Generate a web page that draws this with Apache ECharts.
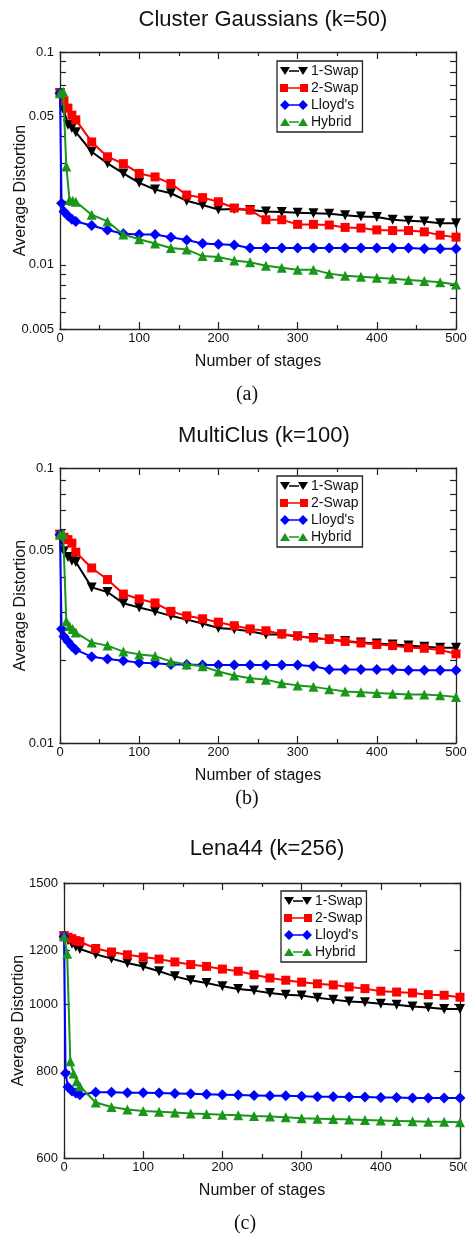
<!DOCTYPE html>
<html>
<head>
<meta charset="utf-8">
<script src="https://cdn.jsdelivr.net/npm/echarts@6/dist/echarts.min.js"></script>
<style>
  html, body { margin: 0; padding: 0; background: #fff; }
  #chart { width: 467px; height: 1234px; }
</style>
</head>
<body>
<div id="chart"></div>
<script>
// stages where each method was sampled
const lateStages = [40, 60, 80, 100, 120, 140, 160, 180, 200, 220, 240, 260, 280, 300, 320, 340, 360, 380, 400, 420, 440, 460, 480, 500];
const swapEarly = [0, 5, 10, 15, 20];
const lloydEarly = [0, 2, 5, 10, 15, 20];
const hybridEarly = [0, 4, 8, 12, 16, 20];

const seriesNames = ['1-Swap', '2-Swap', "Lloyd's", 'Hybrid'];

// (a) Cluster Gaussians
const swap1A = [0.064, 0.053, 0.0455, 0.044, 0.042, 0.034, 0.030, 0.0269, 0.0243, 0.0226, 0.0217, 0.0200, 0.0191, 0.0182, 0.0183, 0.0181, 0.0178, 0.0177, 0.0176, 0.0175, 0.0174, 0.0171, 0.0169, 0.0168, 0.0163, 0.0161, 0.0160, 0.0157, 0.0157];
const swap2A = [0.064, 0.059, 0.0545, 0.0505, 0.048, 0.0378, 0.0322, 0.0299, 0.0269, 0.0259, 0.0241, 0.0213, 0.0207, 0.0198, 0.0185, 0.0181, 0.0163, 0.0163, 0.0155, 0.0155, 0.0154, 0.0150, 0.0149, 0.0146, 0.0145, 0.0145, 0.0143, 0.0138, 0.0135];
const lloydA = [0.064, 0.0195, 0.0178, 0.0170, 0.0164, 0.0160, 0.0153, 0.0146, 0.0140, 0.0139, 0.0139, 0.0135, 0.0131, 0.0126, 0.0125, 0.0124, 0.0120, 0.0120, 0.0120, 0.0120, 0.0120, 0.0120, 0.0120, 0.0120, 0.0120, 0.0120, 0.0120, 0.0119, 0.0119, 0.0119];
const hybridA = [0.064, 0.065, 0.029, 0.0202, 0.0200, 0.0198, 0.0172, 0.0160, 0.0139, 0.0132, 0.0126, 0.0120, 0.0118, 0.0110, 0.0109, 0.0105, 0.0103, 0.0099, 0.0097, 0.0095, 0.0095, 0.0091, 0.0089, 0.0088, 0.0087, 0.0086, 0.0085, 0.0084, 0.0083, 0.0081];

// (b) MultiClus
const swap1B = [0.0572, 0.0498, 0.0475, 0.046, 0.0455, 0.0368, 0.0354, 0.0322, 0.0311, 0.0301, 0.0290, 0.0281, 0.0272, 0.0262, 0.0259, 0.0255, 0.0248, 0.0248, 0.0244, 0.0241, 0.0238, 0.0235, 0.0232, 0.0230, 0.0228, 0.0226, 0.0224, 0.0222, 0.0222];
const swap2B = [0.0572, 0.056, 0.0549, 0.0533, 0.0494, 0.0433, 0.0393, 0.0348, 0.0334, 0.0323, 0.0301, 0.0290, 0.0283, 0.0275, 0.0267, 0.0260, 0.0256, 0.0249, 0.0245, 0.0241, 0.0238, 0.0234, 0.0231, 0.0228, 0.0226, 0.0222, 0.0221, 0.0218, 0.0211];
const lloydB = [0.0572, 0.026, 0.0244, 0.0234, 0.0225, 0.0218, 0.0206, 0.0202, 0.0199, 0.0196, 0.0195, 0.0193, 0.0193, 0.0192, 0.0192, 0.0192, 0.0192, 0.0192, 0.0192, 0.0192, 0.0190, 0.0185, 0.0185, 0.0185, 0.0185, 0.0185, 0.0184, 0.0184, 0.0184, 0.0184];
const hybridB = [0.0572, 0.0575, 0.0277, 0.0266, 0.0260, 0.0252, 0.0232, 0.0226, 0.0215, 0.0210, 0.0207, 0.0198, 0.0193, 0.0190, 0.0182, 0.0176, 0.0172, 0.0170, 0.0165, 0.0162, 0.0160, 0.0157, 0.0154, 0.0153, 0.0152, 0.0151, 0.0150, 0.0150, 0.0149, 0.0147];

// (c) Lena44
const swap1C = [1255, 1240, 1225, 1213, 1204, 1183, 1166, 1149, 1136, 1118, 1099, 1085, 1075, 1063, 1054, 1048, 1040, 1034, 1031, 1023, 1017, 1011, 1008, 1003, 1000, 994, 991, 986, 986];
const swap2C = [1258, 1252, 1246, 1238, 1234, 1206, 1192, 1181, 1172, 1164, 1153, 1143, 1136, 1126, 1118, 1105, 1093, 1085, 1078, 1072, 1068, 1061, 1055, 1046, 1043, 1040, 1034, 1032, 1025];
const lloydC = [1255, 796, 760, 750, 745, 741, 747, 747, 746, 746, 745, 744, 743, 742, 741, 740, 739, 738, 738, 737, 736, 736, 735, 735, 734, 734, 733, 733, 733, 733];
const hybridC = [1255, 1185, 828, 795, 775, 762, 722, 711, 705, 702, 700, 698, 696, 695, 693, 692, 690, 689, 687, 685, 684, 683, 682, 681, 680, 679, 678, 677, 677, 676];

// axis ticks / labels
const yTicksA = [0.005, 0.006, 0.007, 0.008, 0.009, 0.01, 0.02, 0.03, 0.04, 0.05, 0.06, 0.07, 0.08, 0.09, 0.1];
const yLabelsA = [0.005, 0.01, 0.05, 0.1];
const yTicksB = [0.01, 0.02, 0.03, 0.04, 0.05, 0.06, 0.07, 0.08, 0.09, 0.1];
const yLabelsB = [0.01, 0.05, 0.1];
const yTicksC = [600, 800, 1000, 1200, 1500];
const yLabelsC = [600, 800, 1000, 1200, 1500];

const panelTitles = ['Cluster Gaussians (k=50)', 'MultiClus (k=100)', 'Lena44 (k=256)'];
const captions = ['(a)', '(b)', '(c)'];

const SANS = 'Liberation Sans, Arial, sans-serif';
const AXIS_COLOR = '#222';

// legend icons: line with a marker at each end, like the original plot
const legendIcons = [
  'path://M0,1 L10,1 L5,9 Z M9,4.3 L19,4.3 L19,5.7 L9,5.7 Z M18,1 L28,1 L23,9 Z',
  'path://M0,1 L8,1 L8,9 L0,9 Z M8,4.3 L20,4.3 L20,5.7 L8,5.7 Z M20,1 L28,1 L28,9 L20,9 Z',
  'path://M0,5 L5,0 L10,5 L5,10 Z M9,4.3 L19,4.3 L19,5.7 L9,5.7 Z M18,5 L23,0 L28,5 L23,10 Z',
  'path://M0,9 L5,1 L10,9 Z M9,4.3 L19,4.3 L19,5.7 L9,5.7 Z M18,9 L23,1 L28,9 Z'
];

const styles = [
  {color: '#000000', symbol: 'triangle', rotate: 180, size: 10},
  {color: '#ff0000', symbol: 'rect', rotate: 0, size: 9},
  {color: '#0000ff', symbol: 'diamond', rotate: 0, size: 11},
  {color: '#1a961a', symbol: 'triangle', rotate: 0, size: 10}
];

const panels = [
  {grid: {left: 60, top: 52, width: 396, height: 277}, yMin: 0.005, yMax: 0.1, ticks: yTicksA, labels: yLabelsA,
   values: [swap1A, swap2A, lloydA, hybridA], legend: {left: 277, top: 61},
   title: {left: 258, top: 4}, caption: {left: 242, top: 380}, yNameGap: 31},
  {grid: {left: 60, top: 468, width: 396, height: 275}, yMin: 0.01, yMax: 0.1, ticks: yTicksB, labels: yLabelsB,
   values: [swap1B, swap2B, lloydB, hybridB], legend: {left: 277, top: 476},
   title: {left: 259, top: 420}, caption: {left: 242, top: 784}, yNameGap: 31},
  {grid: {left: 64, top: 883, width: 396, height: 275}, yMin: 600, yMax: 1500, ticks: yTicksC, labels: yLabelsC,
   values: [swap1C, swap2C, lloydC, hybridC], legend: {left: 281, top: 891},
   title: {left: 262, top: 833}, caption: {left: 240, top: 1209}, yNameGap: 37}
];

const earlyStages = [swapEarly, swapEarly, lloydEarly, hybridEarly];

function pairs(xs, ys) {
  return xs.map((x, i) => [x, ys[i]]);
}

const grids = [], xAxes = [], yAxes = [], series = [], legends = [], titles = [];

panels.forEach((p, gi) => {
  grids.push(Object.assign({containLabel: false, outerBoundsMode: 'none'}, p.grid));

  const xBase = {
    type: 'value', gridIndex: gi, min: 0, max: 500, interval: 100,
    axisLine: {onZero: false, lineStyle: {color: AXIS_COLOR, width: 1.3}},
    axisTick: {inside: true, length: 7, lineStyle: {color: AXIS_COLOR, width: 1.2}},
    minorTick: {show: true, splitNumber: 2, length: 4, lineStyle: {color: AXIS_COLOR, width: 1.2}},
    splitLine: {show: false}
  };
  xAxes.push(Object.assign({}, xBase, {
    position: 'bottom',
    axisLabel: {fontFamily: SANS, fontSize: 13, color: '#111', margin: 3},
    name: 'Number of stages', nameLocation: 'middle', nameGap: 25,
    nameTextStyle: {fontFamily: SANS, fontSize: 16, color: '#111'}
  }));
  xAxes.push(Object.assign({}, xBase, {position: 'top', axisLabel: {show: false}}));

  const yBase = {
    type: 'log', logBase: 10, gridIndex: gi, min: p.yMin, max: p.yMax,
    axisLine: {show: true, onZero: false, lineStyle: {color: AXIS_COLOR, width: 1.3}},
    axisTick: {show: true, inside: true, length: 6, customValues: p.ticks, lineStyle: {color: AXIS_COLOR, width: 1.2}},
    splitLine: {show: false},
    minorTick: {show: false}
  };
  yAxes.push(Object.assign({}, yBase, {
    position: 'left',
    axisLabel: {
      fontFamily: SANS, fontSize: 13, color: '#111', margin: 6,
      customValues: p.labels,
      formatter: v => String(+(+v).toPrecision(4))
    },
    name: 'Average Distortion', nameLocation: 'middle', nameGap: p.yNameGap,
    nameMoveOverlap: false,
    nameTextStyle: {fontFamily: SANS, fontSize: 16, color: '#111'}
  }));
  yAxes.push(Object.assign({}, yBase, {position: 'right', axisLabel: {show: false}}));

  p.values.forEach((vals, si) => {
    const st = styles[si];
    series.push({
      name: seriesNames[si],
      type: 'line',
      xAxisIndex: gi * 2,
      yAxisIndex: gi * 2,
      data: pairs(earlyStages[si].concat(lateStages), vals),
      symbol: st.symbol,
      symbolSize: st.size,
      symbolRotate: st.rotate,
      showAllSymbol: true,
      lineStyle: {color: st.color, width: 2},
      itemStyle: {color: st.color},
      z: 2 + si
    });
  });

  legends.push({
    data: seriesNames.map((n, i) => ({name: n, icon: legendIcons[i]})),
    orient: 'vertical', left: p.legend.left, top: p.legend.top,
    backgroundColor: '#fff', borderColor: '#222', borderWidth: 1.3,
    padding: [3, 4, 3, 3], itemGap: 3, itemWidth: 28, itemHeight: 14,
    textStyle: {fontFamily: SANS, fontSize: 14, color: '#111', padding: [0, 0, 0, -2]}
  });

  titles.push({
    text: panelTitles[gi], left: p.title.left, top: p.title.top, textAlign: 'center',
    textStyle: {fontFamily: SANS, fontSize: 22, fontWeight: 'normal', color: '#111'}
  });
  titles.push({
    text: captions[gi], left: p.caption.left, top: p.caption.top, textAlign: 'center',
    textStyle: {fontFamily: 'Liberation Serif, Times New Roman, serif', fontSize: 20, fontWeight: 'normal', color: '#111'}
  });
});

const chart = echarts.init(document.getElementById('chart'), null, {renderer: 'canvas'});
chart.setOption({
  animation: false,
  backgroundColor: '#fff',
  title: titles,
  legend: legends,
  grid: grids,
  xAxis: xAxes,
  yAxis: yAxes,
  series: series
});
</script>
</body>
</html>
